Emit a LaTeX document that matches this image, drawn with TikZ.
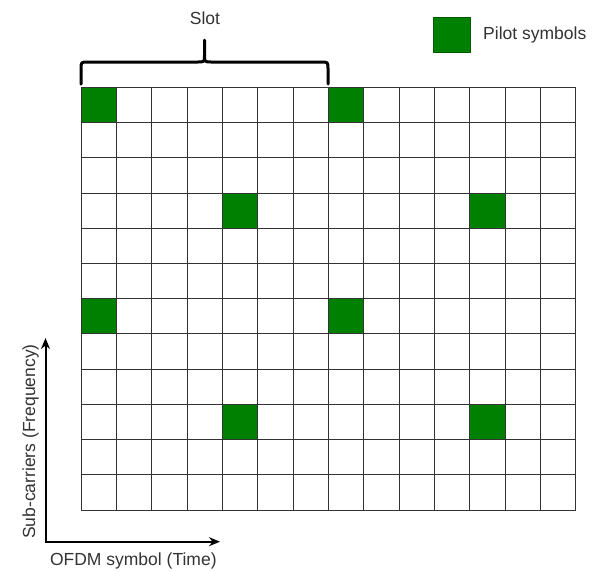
\documentclass[tikz,border=0pt]{standalone}
\usepackage{fontspec}
\setmainfont{Liberation Sans}
\usetikzlibrary{arrows.meta}
\definecolor{pilotgreen}{HTML}{008000}
\definecolor{gridcol}{HTML}{333333}
\begin{document}
\begin{tikzpicture}[x=1pt,y=-1pt,
  lbl/.style={font=\fontsize{17.5}{20}\selectfont, text=black!80, inner sep=0pt},
  pilot/.style={fill=pilotgreen, draw=pilotgreen!70!black, line width=0.8pt},
  gridline/.style={draw=gridcol, line width=0.9pt},
  bracestyle/.style={line width=3pt, line cap=round, line join=round},
  axis/.style={line width=2pt, {Stealth[length=11pt,width=9pt]}-{Stealth[length=11pt,width=9pt]}}]
\useasboundingbox (0,0) rectangle (602,571);
\def\cw{35.33}
\def\ch{35.22}
% pilot cells
\foreach \c/\r in {0/0,7/0,4/3,11/3,0/6,7/6,4/9,11/9}
  \fill[pilotgreen] (81+\c*\cw, 87.3+\r*\ch) rectangle ++(\cw,\ch);
% grid
\foreach \i in {0,...,14}
  \draw[gridline] (81+\i*\cw,87.3) -- (81+\i*\cw,510);
\foreach \j in {0,...,12}
  \draw[gridline] (81,87.3+\j*\ch) -- (575.7,87.3+\j*\ch);
% brace
\coordinate (bl) at (81,84);
\coordinate (br) at (328,84);
\coordinate (btip) at (204.5,40);
\draw[bracestyle] (bl) -- (81,69) .. controls (81,62) .. (88,62) -- (197.5,62)
  .. controls (204.5,62) .. (204.5,55) -- (btip);
\draw[bracestyle] (br) -- (328,69) .. controls (328,62) .. (321,62) -- (211.5,62)
  .. controls (204.5,62) .. (204.5,55);
\node[lbl] (slot) at (205,18) {Slot};
% legend
\node[pilot, minimum width=37, minimum height=35, inner sep=0pt] (leg) at (451.5,34.5) {};
\node[lbl, anchor=west] (pl) at (483,35) {Pilot symbols};
% axes
\coordinate (o) at (45.5,541.7);
\coordinate (ytip) at (45.5,338);
\coordinate (xtip) at (220,541.7);
\draw[axis] (ytip) -- (o) -- (xtip);
\node[lbl] (xl) at (133.3,560.5) {OFDM symbol (Time)};
\node[lbl, rotate=90] (yl) at (30.7,441.5) {Sub-carriers (Frequency)};
\end{tikzpicture}
\end{document}
